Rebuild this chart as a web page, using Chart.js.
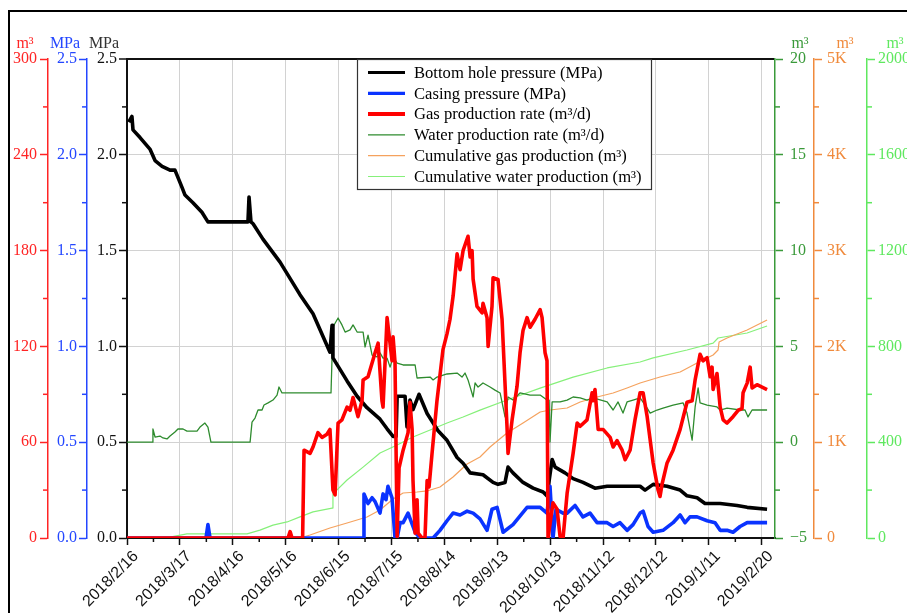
<!DOCTYPE html>
<html>
<head>
<meta charset="utf-8">
<title>Well production history</title>
<script src="https://cdn.jsdelivr.net/npm/chart.js@4/dist/chart.umd.min.js"></script>
<style>
  html, body { margin: 0; padding: 0; background: #fff; overflow: hidden; }
  #wrap { width: 960px; height: 640px; }
</style>
</head>
<body>
<div id="wrap"><canvas id="c" width="960" height="640"></canvas></div>
<script>
// x values are days counted from 2018/2/16
const dateLabels = ['2018/2/16', '2018/3/17', '2018/4/16', '2018/5/16', '2018/6/15', '2018/7/15',
  '2018/8/14', '2018/9/13', '2018/10/13', '2018/11/12', '2018/12/12', '2019/1/11', '2019/2/20'];
const dateTickDays = [0, 30, 60, 90, 120, 150, 180, 210, 240, 270, 300, 330, 360];

// Bottom hole pressure, MPa: [day, value]
const bottomHolePressure = [[1,2.17],[2.8,2.2],[3.4,2.13],[7.4,2.09],[13,2.03],[15.9,1.97],[19.9,1.94],[24.4,1.92],[27.2,1.92],[31.2,1.83],[32.9,1.79],[37.4,1.75],[42.5,1.70],[45.9,1.65],[61.3,1.65],[68.6,1.65],[69.2,1.78],[70.3,1.65],[71.5,1.64],[77.1,1.56],[86.8,1.44],[90.8,1.38],[98.1,1.27],[105.5,1.17],[115.1,0.97],[116.3,1.11],[116.8,0.94],[124.8,0.82],[130.5,0.74],[136.1,0.68],[143.5,0.62],[147.5,0.57],[150.9,0.53],[152.6,0.53],[153.2,0.74],[157.7,0.74],[158.8,0.58],[160.5,0.72],[162.2,0.67],[165.6,0.75],[170.2,0.65],[176.4,0.56],[181.5,0.51],[187.2,0.42],[190.6,0.39],[194.6,0.34],[201.9,0.33],[207.6,0.29],[210.4,0.28],[214.4,0.29],[216.1,0.37],[218.9,0.34],[224.6,0.29],[230.3,0.26],[236,0.24],[238.2,0.22],[241.1,0.41],[242.8,0.37],[248.4,0.34],[253,0.31],[258.6,0.29],[265.4,0.26],[272.3,0.27],[291,0.27],[293.8,0.25],[298.4,0.28],[306.3,0.27],[313.7,0.25],[317.6,0.22],[323.3,0.21],[327.8,0.18],[336.4,0.18],[346,0.17],[351.7,0.16],[363,0.15]];

// Casing pressure, MPa
const casingPressure = [[0,0],[44.8,0],[45.9,0.07],[47.1,0],[133.9,0],[134.4,0.23],[136.7,0.18],[139,0.21],[140.7,0.19],[143.5,0.13],[145.2,0.23],[146.9,0.2],[148,0.27],[150.3,0.21],[152,0],[153.2,0],[154.9,0.08],[156.6,0.08],[159.4,0.13],[163.4,0.03],[166.2,0],[173.6,0],[177.5,0.04],[181.5,0.09],[184.9,0.13],[188.9,0.12],[192.9,0.14],[196.3,0.13],[200.2,0.1],[204.2,0.04],[207,0.15],[209.9,0.16],[213.3,0.03],[218.9,0.07],[226.9,0.16],[234.3,0.16],[238.2,0.13],[239.9,0.27],[241.6,0],[243.3,0.15],[247.3,0.13],[249.6,0.13],[254.1,0.17],[258.6,0.11],[262.6,0.13],[266.6,0.08],[272.3,0.08],[275.7,0.06],[279.6,0.08],[283.6,0.04],[287,0.07],[291,0.13],[292.7,0.14],[295.5,0.06],[298.4,0.03],[304,0.04],[309.7,0.08],[313.7,0.12],[316.5,0.08],[319.3,0.11],[323.3,0.11],[329,0.09],[333.5,0.08],[336.4,0.04],[340.3,0.04],[343.7,0.03],[347.7,0.06],[351.7,0.08],[363,0.08]];

// Gas production rate, m³/d
const gasRate = [[0,0],[91.3,0],[92.5,4],[93.6,0],[99.6,0],[100.4,55],[103.8,53],[105.5,57],[108.3,66],[110.6,63],[113.4,65],[115.1,68],[116.8,30],[118,27],[119.7,72],[121.9,74],[124.8,82],[126.5,80],[128.2,88],[131,76],[133.3,86],[133.9,99],[136.7,101],[140.7,116],[142.4,122],[144.6,86],[145.2,82],[147.5,138],[150.3,111],[150.9,126],[152,110],[153.2,1],[154.3,44],[156.6,55],[159.4,66],[160.5,85],[161.7,68],[162.2,36],[163.4,3],[164.5,24],[165.1,3],[167.3,0],[169,0],[170.2,36],[171.3,32],[173,53],[175.8,86],[179.2,118],[181.5,128],[183.2,137],[185,152],[187.2,178],[188.9,168],[190.6,180],[193.4,189],[194.6,176],[195.7,180],[196.3,162],[198.5,145],[201.4,141],[201.9,147],[204.2,138],[204.8,120],[207,145],[207.6,163],[210.4,162],[212.7,137],[215.5,70],[216.1,53],[218.4,74],[221.2,95],[222.9,116],[224.6,130],[226.9,138],[228.6,132],[231.4,137],[234.3,143],[235.4,138],[237.1,116],[238.2,111],[238.8,0],[241.6,22],[243.9,18],[245.6,1],[247.3,0],[249.6,28],[253,53],[255.3,72],[257,70],[260.9,74],[263.8,91],[264.3,86],[265.4,93],[267.2,68],[270,68],[274,63],[275.7,57],[277.9,61],[280.8,55],[282.5,49],[285.3,55],[288.1,74],[291,91],[292.7,91],[295,76],[298.4,47],[301.2,30],[302.3,26],[303.5,34],[306.3,47],[309.7,55],[313.7,68],[317.6,85],[320.5,86],[322.2,99],[325,115],[326.7,111],[329,113],[330.7,101],[331.8,107],[332.4,93],[334.6,103],[336.4,82],[338.1,74],[340.3,72],[343.7,76],[346.6,80],[348.8,81],[349.4,91],[351.7,97],[353.4,107],[354.5,94],[357.3,96],[363,93]];

// Water production rate, m³/d
const waterRate = [[0,0],[14.2,0],[14.7,0.69],[15.9,0.27],[18.7,0.32],[20.4,0.22],[22.7,0.17],[24.4,0.32],[27.2,0.53],[28.9,0.69],[31.8,0.69],[34,0.58],[39.7,0.58],[41.4,0.79],[44.2,1.0],[45.9,0.79],[47.6,0],[69.8,0],[70.9,1.05],[72.6,1.26],[74.3,1.68],[76.6,1.68],[77.7,1.94],[80,2.05],[82.8,2.2],[85.1,2.46],[86.2,2.88],[87.9,2.57],[115.7,2.57],[116.8,6.01],[119.7,6.48],[121.9,6.12],[123.7,5.75],[126.5,5.86],[128.2,6.12],[130.5,5.75],[133.9,5.75],[135,4.97],[136.7,5.59],[139,4.55],[141.8,4.45],[143.5,4.66],[145.2,4.39],[147.5,4.39],[149.2,3.92],[150.9,4.45],[153.2,4.13],[156.6,4.03],[163.4,4.03],[164.5,3.35],[171.9,3.4],[173.6,3.25],[175.8,3.4],[181.5,3.56],[187.2,3.61],[190,3.4],[191.7,3.61],[193.4,3.25],[196.3,2.36],[197.4,3.09],[199.1,2.88],[201.9,3.09],[205.9,2.88],[208.7,2.72],[211.6,2.57],[214.4,1.32],[216.1,2.36],[218.9,2.2],[222.9,2.57],[228.6,2.46],[234.3,2.46],[238.2,2.2],[239.4,2.2],[239.9,0.01],[241.1,2.1],[245.6,2.1],[249.6,2.2],[253,2.36],[257,2.31],[260.9,2.2],[264.3,2.31],[272.3,2.1],[275.7,1.68],[278.5,2.1],[281.3,1.52],[283.6,2.1],[287,2.2],[291,2.31],[295,1.78],[296.7,1.52],[300.6,1.68],[304,1.78],[309.7,1.94],[315.4,2.05],[317.6,1.52],[320.5,0.11],[322.2,1.84],[323.9,2.83],[325,2.05],[329,1.94],[334.6,1.84],[336.4,1.68],[340.3,1.78],[347.7,1.68],[350.5,1.68],[352.2,1.32],[354.5,1.68],[363,1.68]];

// Cumulative gas production, m³
const cumulativeGas = [[0,0],[98.1,0],[103.8,31],[115.1,104],[124.8,157],[136.1,219],[143.5,292],[150.9,407],[156.6,470],[164.5,480],[170.2,491],[177.5,532],[184.9,637],[192.9,772],[200.2,845],[205.9,950],[215.5,1096],[224.6,1200],[234.3,1315],[239.9,1336],[249.6,1357],[257,1420],[266.6,1472],[275.7,1514],[283.6,1566],[291,1618],[302.3,1681],[313.7,1733],[323.3,1827],[329,1879],[332.4,1910],[335.2,1962],[335.8,2046],[340.3,2088],[351.7,2171],[363,2275]];

// Cumulative water production, m³
const cumulativeWater = [[0,0],[10.2,0],[24.4,4],[34,17],[68.1,17],[75.4,33],[82.8,54],[90.8,67],[98.1,88],[105.5,109],[116.3,125],[116.8,184],[124.8,242],[133.9,296],[143.5,355],[153.2,388],[162.2,422],[171.9,451],[181.5,480],[190.6,505],[200.2,534],[215.5,576],[234.3,626],[253,672],[272.3,710],[291,735],[298.4,752],[317.6,785],[332.4,814],[335.2,835],[351.7,856],[363,885]];

const seriesNames = ['Bottom hole pressure (MPa)', 'Casing pressure (MPa)', 'Gas production rate (m³/d)',
  'Water production rate (m³/d)', 'Cumulative gas production (m³)', 'Cumulative water production (m³)'];

const toXY = arr => arr.map(([x, y]) => ({ x, y }));

const LINE = { bhp: '#000000', casing: '#0a33ff', gas: '#ff0000', water: '#2e8b2e', cumGas: '#f5a25e', cumWater: '#86f07a' };
const AXIS = { bhp: '#111111', casing: '#2447ff', gas: '#ff2424', water: '#3a9a3a', cumGas: '#f08a3c', cumWater: '#5fe85f' };
const legendLineWidths = [3.2, 3.2, 4, 1.2, 1.2, 1.2];

function yAxis(o) {
  return {
    type: 'linear', position: o.pos, weight: o.weight, min: o.min, max: o.max,
    afterFit: s => { s.width = o.width; },
    ticks: {
      stepSize: o.step, color: o.color, padding: o.pad, autoSkip: false,
      font: { family: 'Liberation Serif', size: 16 }, callback: o.fmt
    },
    grid: {
      drawOnChartArea: !!o.gridOn,
      color: o.gridColor || 'rgba(0,0,0,0)',
      lineWidth: o.gridWidth || 1,
      tickColor: o.color, tickLength: 8, tickWidth: 1.5
    },
    border: { color: o.color, width: o.bw || 1.5 }
  };
}

const minorStep = { x: 15, yBhp: 0.25, yCasing: 0.25, yGas: 30, yWater: 2.5, yCumGas: 500, yCumWater: 200 };

const minorTicks = {
  id: 'minorTicks',
  afterDraw(chart) {
    const c = chart.ctx;
    c.save();
    for (const [id, step] of Object.entries(minorStep)) {
      const s = chart.scales[id];
      c.strokeStyle = s.options.border.color;
      c.lineWidth = 1.5;
      for (let v = s.min + step; v < s.max; v += 2 * step) {
        const p = s.getPixelForValue(v);
        c.beginPath();
        if (id === 'x') { c.moveTo(p, s.top); c.lineTo(p, s.top + 4); }
        else if (s.position === 'left') { c.moveTo(s.right, p); c.lineTo(s.right - 5, p); }
        else { c.moveTo(s.left, p); c.lineTo(s.left + 5, p); }
        c.stroke();
      }
    }
    c.restore();
  }
};

const unitLabels = [
  { id: 'yGas', text: 'm³', color: AXIS.gas, dx: -23 },
  { id: 'yCasing', text: 'MPa', color: AXIS.casing, dx: -22 },
  { id: 'yBhp', text: 'MPa', color: '#333333', dx: -23 },
  { id: 'yWater', text: 'm³', color: AXIS.water, dx: 25 },
  { id: 'yCumGas', text: 'm³', color: AXIS.cumGas, dx: 31 },
  { id: 'yCumWater', text: 'm³', color: AXIS.cumWater, dx: 28 }
];

const axisUnits = {
  id: 'axisUnits',
  afterDraw(chart) {
    const c = chart.ctx;
    c.save();
    c.font = '16px "Liberation Serif"';
    c.textAlign = 'center';
    c.textBaseline = 'alphabetic';
    for (const u of unitLabels) {
      const s = chart.scales[u.id];
      const x = s.position === 'left' ? s.right + u.dx : s.left + u.dx;
      c.fillStyle = u.color;
      c.fillText(u.text, x, chart.chartArea.top - 11);
    }
    c.restore();
  }
};

const boxLegend = {
  id: 'boxLegend',
  afterDraw(chart) {
    const c = chart.ctx;
    const a = chart.chartArea;
    const x0 = a.left + 230, y0 = a.top, w = 294, h = 130;
    c.save();
    c.fillStyle = '#ffffff';
    c.fillRect(x0, y0, w, h);
    c.strokeStyle = '#333333';
    c.lineWidth = 1.2;
    c.strokeRect(x0 + 0.5, y0 + 0.5, w, h);
    c.font = '16.6px "Liberation Serif"';
    c.textBaseline = 'middle';
    c.textAlign = 'left';
    chart.data.datasets.forEach((ds, i) => {
      const cy = y0 + 13.5 + i * 20.8;
      c.strokeStyle = ds.borderColor;
      c.lineWidth = legendLineWidths[i];
      c.beginPath();
      c.moveTo(x0 + 11, cy);
      c.lineTo(x0 + 48, cy);
      c.stroke();
      c.fillStyle = '#000000';
      c.fillText(ds.label, x0 + 57, cy + 1);
    });
    c.restore();
  }
};

const frame = {
  id: 'frame',
  beforeDraw(chart) {
    const c = chart.ctx;
    c.save();
    c.fillStyle = '#ffffff';
    c.fillRect(0, 0, chart.width, chart.height);
    c.strokeStyle = '#000000';
    c.lineWidth = 2;
    c.strokeRect(9, 11, 1000, 1000);
    c.restore();
  }
};

function lineSet(label, data, color, width, yAxisID, order) {
  return {
    label, data: toXY(data), borderColor: color, backgroundColor: color,
    borderWidth: width, pointRadius: 0, tension: 0, fill: false,
    borderJoinStyle: 'round', xAxisID: 'x', yAxisID, order
  };
}

new Chart(document.getElementById('c'), {
  type: 'line',
  data: {
    datasets: [
      lineSet(seriesNames[0], bottomHolePressure, LINE.bhp, 3.6, 'yBhp', 2),
      lineSet(seriesNames[1], casingPressure, LINE.casing, 3.6, 'yCasing', 1),
      lineSet(seriesNames[2], gasRate, LINE.gas, 3.6, 'yGas', 0),
      lineSet(seriesNames[3], waterRate, LINE.water, 1.3, 'yWater', 3),
      lineSet(seriesNames[4], cumulativeGas, LINE.cumGas, 1.2, 'yCumGas', 4),
      lineSet(seriesNames[5], cumulativeWater, LINE.cumWater, 1.2, 'yCumWater', 5)
    ]
  },
  options: {
    responsive: false,
    animation: false,
    events: [],
    layout: { padding: { left: 0, right: 0, top: 59, bottom: 22 } },
    plugins: { legend: { display: false }, tooltip: { enabled: false } },
    scales: {
      x: {
        type: 'linear', position: 'bottom', min: 0, max: 367.5,
        afterBuildTicks: s => { s.ticks = dateTickDays.map(v => ({ value: v })); },
        afterFit: s => { s.height = 80; },
        ticks: {
          autoSkip: false, maxRotation: 45, minRotation: 45, padding: 2, labelOffset: 9, color: '#111',
          font: { family: 'Liberation Sans', size: 16 },
          callback: (v, i) => dateLabels[i]
        },
        grid: {
          color: ctx => (ctx.index === 0 ? 'rgba(0,0,0,0)' : '#d2d2d2'),
          lineWidth: 1, tickColor: '#111', tickLength: 7, tickWidth: 1.5
        },
        border: { color: '#111', width: 2 }
      },
      yBhp: yAxis({
        pos: 'left', weight: 0, min: 0, max: 2.5, step: 0.5, width: 40, pad: 2, color: '#111111',
        fmt: v => v.toFixed(1), gridOn: true, bw: 2,
        gridColor: ctx => (ctx.tick.value === 2.5 ? '#111111' : (ctx.tick.value === 0 ? 'rgba(0,0,0,0)' : '#d2d2d2')),
        gridWidth: ctx => (ctx.tick.value === 2.5 ? 2 : 1)
      }),
      yCasing: yAxis({
        pos: 'left', weight: 1, min: 0, max: 2.5, step: 0.5, width: 39, pad: 2, color: AXIS.casing,
        fmt: v => v.toFixed(1)
      }),
      yGas: yAxis({
        pos: 'left', weight: 2, min: 0, max: 300, step: 60, width: 48, pad: 3, color: AXIS.gas,
        fmt: v => String(v)
      }),
      yWater: yAxis({
        pos: 'right', weight: 0, min: -5, max: 20, step: 5, width: 39, pad: 7, color: AXIS.water,
        fmt: v => (v < 0 ? '\u2212' + Math.abs(v) : String(v))
      }),
      yCumGas: yAxis({
        pos: 'right', weight: 1, min: 0, max: 5000, step: 1000, width: 53, pad: 5, color: AXIS.cumGas,
        fmt: v => (v === 0 ? '0' : (v / 1000) + 'K')
      }),
      yCumWater: yAxis({
        pos: 'right', weight: 2, min: 0, max: 2000, step: 400, width: 93, pad: 3, color: AXIS.cumWater,
        fmt: v => String(v)
      })
    }
  },
  plugins: [frame, minorTicks, axisUnits, boxLegend]
});
</script>
</body>
</html>
